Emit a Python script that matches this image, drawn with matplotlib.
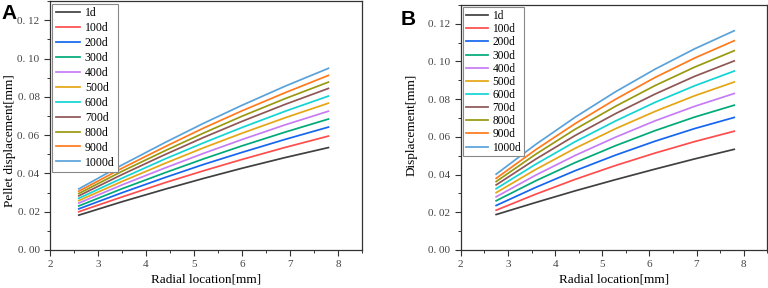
import matplotlib
matplotlib.use("Agg")
import matplotlib.pyplot as plt
from matplotlib.ticker import MultipleLocator, FixedLocator, FixedFormatter

plt.rcParams['font.family'] = ['Liberation Serif', 'DejaVu Serif']

# ---------------------------------------------------------------------------
# Datos
# ---------------------------------------------------------------------------
labels = ['1d', '100d', '200d', '300d', '400d', '500d',
          '600d', '700d', '800d', '900d', '1000d']
colors = ['#404040', '#ff4d4d', '#1466f0', '#00aa78', '#c77cf5', '#e5a614',
          '#12d4d4', '#8f5656', '#999910', '#ff7a1c', '#5aa2da']

# Panel A: desplazamiento de la pastilla
xa = [2.6, 3.5, 4.4, 5.2, 6.0, 6.9, 7.8]
ya = [
    [0.0182, 0.0252, 0.0318, 0.0374, 0.0427, 0.0483, 0.0535],
    [0.0200, 0.0277, 0.0352, 0.0414, 0.0473, 0.0536, 0.0595],
    [0.0215, 0.0299, 0.0379, 0.0447, 0.0510, 0.0578, 0.0642],
    [0.0230, 0.0320, 0.0404, 0.0476, 0.0544, 0.0616, 0.0684],
    [0.0245, 0.0340, 0.0429, 0.0505, 0.0577, 0.0654, 0.0725],
    [0.0258, 0.0358, 0.0453, 0.0534, 0.0610, 0.0691, 0.0767],
    [0.0270, 0.0375, 0.0476, 0.0560, 0.0640, 0.0725, 0.0804],
    [0.0283, 0.0394, 0.0499, 0.0588, 0.0672, 0.0761, 0.0844],
    [0.0295, 0.0411, 0.0519, 0.0611, 0.0699, 0.0791, 0.0877],
    [0.0307, 0.0427, 0.0540, 0.0637, 0.0727, 0.0822, 0.0912],
    [0.0319, 0.0444, 0.0562, 0.0662, 0.0756, 0.0856, 0.0949],
]

# Panel B: desplazamiento
xb = [2.75, 3.59, 4.43, 5.28, 6.12, 6.96, 7.8]
yb = [
    [0.0188, 0.0252, 0.0314, 0.0373, 0.0429, 0.0483, 0.0534],
    [0.0211, 0.0296, 0.0375, 0.0448, 0.0514, 0.0575, 0.0630],
    [0.0236, 0.0332, 0.0421, 0.0503, 0.0577, 0.0644, 0.0703],
    [0.0261, 0.0367, 0.0464, 0.0553, 0.0633, 0.0705, 0.0768],
    [0.0282, 0.0397, 0.0502, 0.0598, 0.0685, 0.0762, 0.0830],
    [0.0304, 0.0427, 0.0540, 0.0643, 0.0735, 0.0818, 0.0891],
    [0.0325, 0.0455, 0.0575, 0.0684, 0.0783, 0.0871, 0.0949],
    [0.0345, 0.0482, 0.0608, 0.0723, 0.0827, 0.0921, 0.1003],
    [0.0363, 0.0508, 0.0641, 0.0762, 0.0872, 0.0970, 0.1057],
    [0.0380, 0.0532, 0.0671, 0.0799, 0.0915, 0.1018, 0.1110],
    [0.0402, 0.0560, 0.0705, 0.0839, 0.0959, 0.1067, 0.1163],
]

yticks = [0.00, 0.02, 0.04, 0.06, 0.08, 0.10, 0.12]
ytick_labels = ['0. 00', '0. 02', '0. 04', '0. 06', '0. 08', '0. 10', '0. 12']
xticks = [2, 3, 4, 5, 6, 7, 8]


def preparar_ejes(ax, ylabel):
    ax.set_xlim(2, 8.5)
    ax.set_ylim(0, 0.13)
    ax.yaxis.set_major_locator(FixedLocator(yticks))
    ax.yaxis.set_major_formatter(FixedFormatter(ytick_labels))
    ax.yaxis.set_minor_locator(MultipleLocator(0.01))
    ax.xaxis.set_major_locator(FixedLocator(xticks))
    ax.xaxis.set_minor_locator(MultipleLocator(0.5))
    ax.tick_params(which='both', direction='out', top=False, right=False,
                   labelsize=8, colors='#333333', labelcolor='#444444')
    ax.tick_params(which='major', length=4, width=0.8)
    ax.tick_params(which='minor', length=2, width=0.7)
    for s in ax.spines.values():
        s.set_linewidth(0.9)
        s.set_color('#333333')
    ax.set_xlabel('Radial location[mm]', fontsize=9.5, labelpad=3)
    ax.set_ylabel(ylabel, fontsize=9.5, labelpad=4)


fig = plt.figure(figsize=(7.68, 2.88), dpi=100)
ax1 = fig.add_axes([0.0651, 0.132, 0.4063, 0.864])
ax2 = fig.add_axes([0.600, 0.132, 0.399, 0.851])

for y, c, lab in zip(ya, colors, labels):
    ax1.plot(xa, y, color=c, linewidth=1.25, label=lab)
for y, c, lab in zip(yb, colors, labels):
    ax2.plot(xb, y, color=c, linewidth=1.25, label=lab)

preparar_ejes(ax1, 'Pellet displacement[mm]')
preparar_ejes(ax2, 'Displacement[mm]')
ax1.yaxis.set_label_coords(-0.108, 0.44)
ax2.yaxis.set_label_coords(-0.14, 0.51)

leg1 = ax1.legend(loc='upper left', fontsize=8.5, labelspacing=0.25,
                  handlelength=2.0, handletextpad=0.45, borderpad=0.3,
                  borderaxespad=0.2, fancybox=False, framealpha=1)
leg1.get_frame().set_edgecolor('#888888')
leg1.get_frame().set_linewidth(0.8)

leg2 = ax2.legend(loc='upper left', fontsize=8.3, labelspacing=0.1,
                  handlelength=1.9, handletextpad=0.4, borderpad=0.25,
                  borderaxespad=0.2, fancybox=False, framealpha=1)
leg2.get_frame().set_edgecolor('#888888')
leg2.get_frame().set_linewidth(0.8)

fig.text(0.002, 0.985, 'A', fontsize=15, fontweight='bold',
         family='Liberation Sans', va='top', ha='left')
fig.text(0.521, 0.965, 'B', fontsize=15, fontweight='bold',
         family='Liberation Sans', va='top', ha='left')

fig.savefig('out.png', dpi=100)
